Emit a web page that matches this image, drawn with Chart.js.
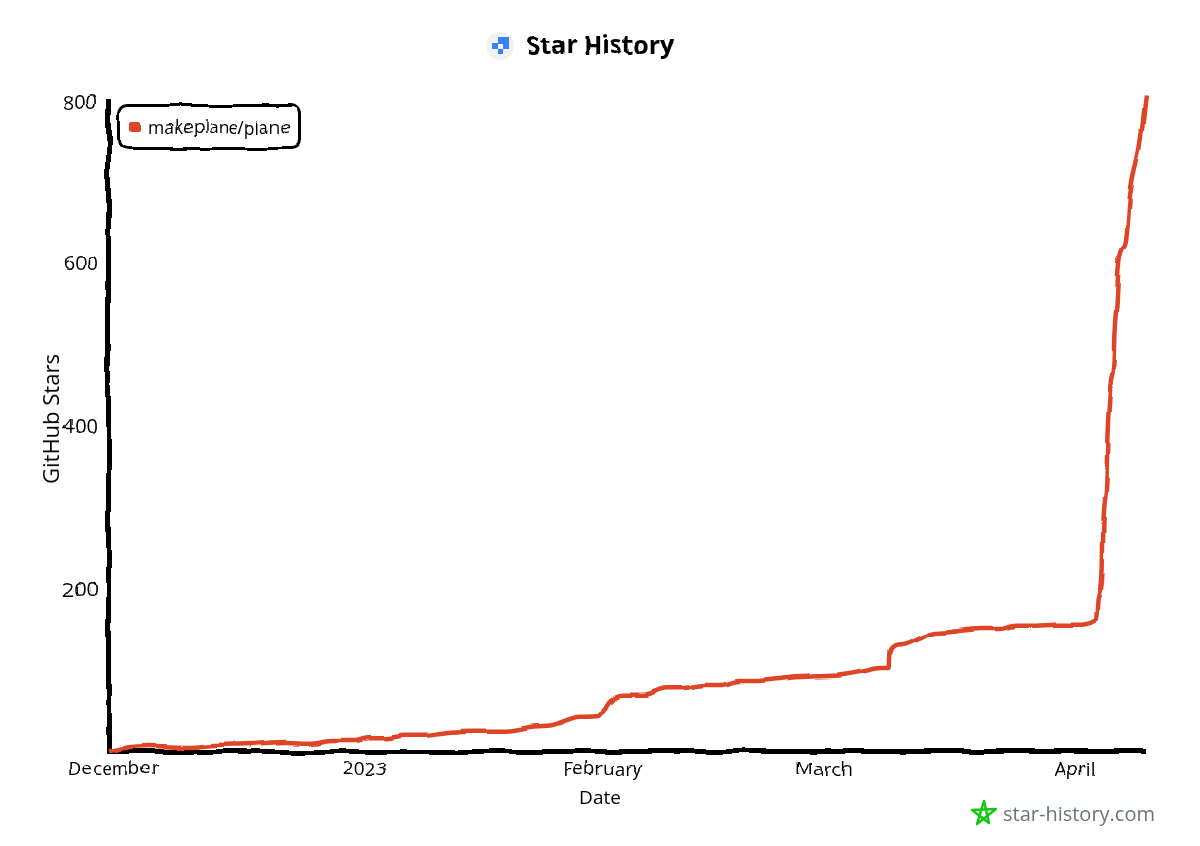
<!DOCTYPE html>
<html>
<head>
<meta charset="utf-8">
<title>Star History</title>
<script src="https://cdn.jsdelivr.net/npm/chart.js@4/dist/chart.umd.js"></script>
<style>
  html, body { margin: 0; background: #fff; }
  #wrap { position: relative; width: 1200px; height: 846px; overflow: hidden; }
  #chart1, #legend { filter: url(#rough); }
  #legend {
    position: absolute; left: 118px; top: 104px; width: 177px; height: 40px;
    border: 3px solid #000; border-radius: 10px; background: #fff;
    font: 17.5px "Open Sans", sans-serif; color: #000;
    display: flex; align-items: center; box-sizing: content-box;
  }
  #legend i { width: 11px; height: 10px; border-radius: 2px; margin: 0 7px 0 9px; }
  #logo { position: absolute; left: 486px; top: 32px; }
  #brand {
    position: absolute; left: 971px; top: 799px; display: flex; align-items: center;
    font: 20px "Open Sans", sans-serif; color: #6b7280;
  }
  #brand svg { margin-right: 6px; }
  .axis-name { position: absolute; font-family: "Open Sans", sans-serif; color: #000; white-space: nowrap; }
  #xName { left: 600px; top: 797px; font-size: 19px; transform: translate(-50%, -50%); }
  #yName { left: 50px; top: 419px; font-size: 22px; transform: translate(-50%, -50%) rotate(-90deg); }
</style>
</head>
<body>
<div id="wrap">
  <svg width="0" height="0" style="position:absolute">
    <filter id="rough"><feTurbulence type="fractalNoise" baseFrequency="0.025" numOctaves="2" seed="4"/>
      <feDisplacementMap in="SourceGraphic" scale="6" xChannelSelector="R" yChannelSelector="G"/>
      <feGaussianBlur stdDeviation="0.5"/></filter>
  </svg>
  <canvas id="chart1" width="1200" height="846"></canvas>
  <svg id="logo" width="28" height="28" viewBox="0 0 28 28">
    <circle cx="14" cy="14" r="14" fill="#f1f2f4"/>
    <path fill="#3b82f6" d="M12 5h11v12h-6v-5h-5zM6 11h6v6H6zM12 17h5v5h-5z"/>
  </svg>
  <div id="legend"><i></i><span></span></div>
  <div id="xName" class="axis-name">Date</div>
  <div id="yName" class="axis-name">GitHub Stars</div>
  <div id="brand">
    <svg width="26" height="28" viewBox="0 0 26 28"><path fill="none" stroke="#11c811" stroke-width="2.5" stroke-linejoin="round" d="M13 2 L18 24 L1 11 L25 10 L6 25 Z"/></svg>
    <span>star-history.com</span>
  </div>
</div>
<script>
const seriesName = 'makeplane/plane';

// days counted from 1 December 2022
const starDays = [-1.5, 0.65, 3.57, 8.9, 11.7, 16.5, 20.9, 24.1, 27.3, 29.8, 31.7, 33.6, 36.1, 38.7, 41.5, 44.4,
  48.8, 52, 54.8, 58.3, 60.6, 61.9, 63.6, 66.2, 69.1, 71, 74.2, 76, 78.3, 80.5, 84.9, 88.7, 91.3, 94.4, 96.3, 97.4,
  97.5, 98.9, 100.8, 102.9, 105.2, 109, 111.5, 113.4, 116, 118.5, 121.1, 123.8, 124, 124.5, 124.6, 125, 125.1,
  125.5, 125.9, 126, 126.3, 126.5, 127, 127.4, 128, 128.8, 129.3, 130];
const starCounts = [0, 3.7, 6, 5, 7, 8.6, 11, 10, 13.5, 13.5, 17, 17, 20, 20, 23, 25,
  25, 29.5, 32, 42, 43, 61, 69, 69, 77, 77, 81, 81, 86, 86, 90, 92, 93, 98, 102, 102,
  122, 130, 136, 144, 146, 150, 150, 154, 154, 155, 155, 161, 185, 222, 278, 333, 382,
  450, 480, 511, 554, 591, 615, 622, 683, 726, 751, 803];

const monthTicks = [-0.8, 31, 61.2, 89.2, 121];
const monthLabels = ['December', '2023', 'February', 'March', 'April'];
const starTicks = [200, 400, 600, 800];

const lineColor = '#dd4528';
const font = 'Open Sans';

document.querySelector('#legend span').textContent = seriesName;
document.querySelector('#legend i').style.background = lineColor;

// the title centres on the whole page, not on the space left of the right padding
const centreTitle = {
  id: 'centreTitle',
  afterLayout: chart => { chart.titleBlock.right = chart.width; }
};

const ctx1 = document.getElementById('chart1');
new Chart(ctx1, {
  type: 'line',
  plugins: [centreTitle],
  data: {
    datasets: [{
      label: seriesName,
      data: starDays.map((d, i) => ({ x: d, y: starCounts[i] })),
      borderColor: lineColor,
      borderWidth: 4.5,
      pointRadius: 0,
      fill: false,
      cubicInterpolationMode: 'monotone',
      clip: false
    }]
  },
  options: {
    responsive: false,
    animation: false,
    devicePixelRatio: 1,
    layout: { padding: { top: 32, right: 54, left: 0, bottom: 0 } },
    plugins: {
      legend: { display: false },
      tooltip: { enabled: false },
      title: {
        display: true,
        text: 'Star History',
        color: '#000',
        font: { family: font, size: 25, weight: 'bold' },
        padding: { top: 0, bottom: 38 }
      }
    },
    scales: {
      x: {
        type: 'linear',
        min: -1.5,
        max: 130,
        afterBuildTicks: axis => { axis.ticks = monthTicks.map(v => ({ value: v })); },
        afterFit: axis => { axis.height = 95; },
        grid: { display: false, drawTicks: false },
        border: { color: '#000', width: 5 },
        ticks: {
          color: '#000',
          padding: 7,
          maxRotation: 0,
          autoSkip: false,
          font: { family: font, size: 19 },
          callback: (value, i) => monthLabels[i]
        }
      },
      y: {
        min: 0,
        max: 800,
        afterBuildTicks: axis => { axis.ticks = starTicks.map(v => ({ value: v })); },
        afterFit: axis => { axis.width = 108; },
        grid: { display: false, drawTicks: false },
        border: { color: '#000', width: 5 },
        ticks: {
          color: '#000',
          padding: 11,
          labelOffset: 2,
          font: { family: font, size: 20 }
        }
      }
    }
  }
});
</script>
</body>
</html>
